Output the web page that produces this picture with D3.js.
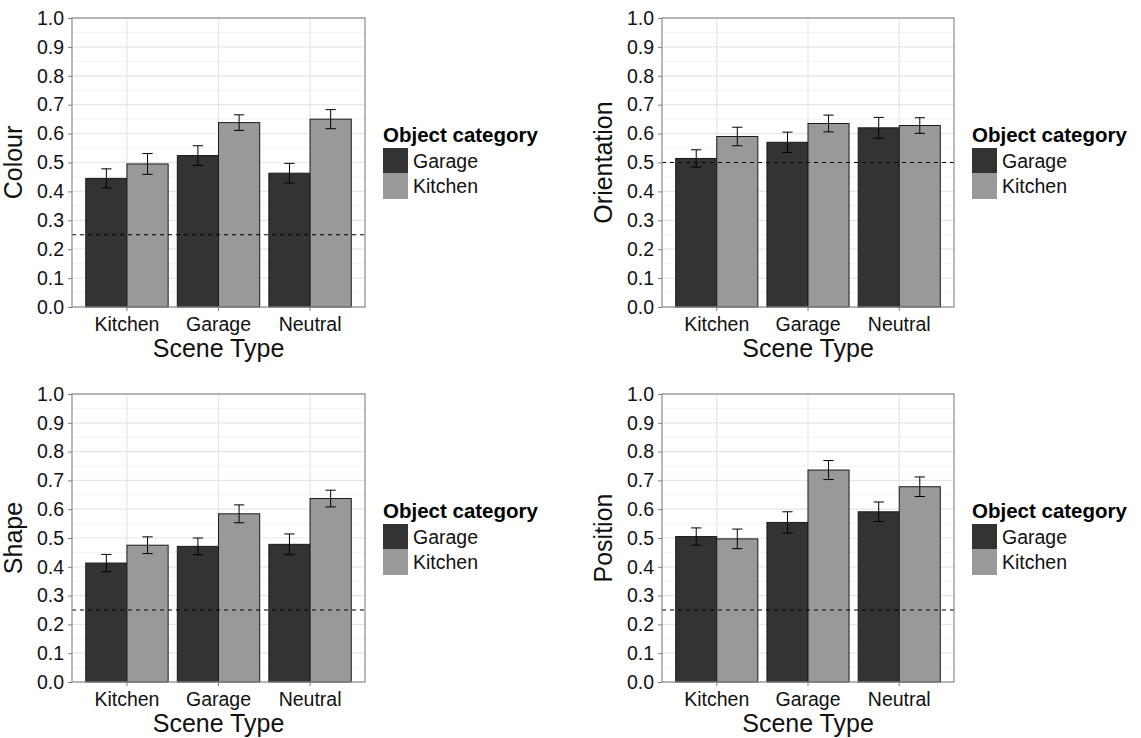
<!DOCTYPE html>
<html>
<head>
<meta charset="utf-8">
<script src="https://cdn.jsdelivr.net/npm/d3@7"></script>
<style>
  html, body { margin: 0; padding: 0; background: #fff; }
  svg { display: block; font-family: "Liberation Sans", Arial, sans-serif; }
</style>
</head>
<body>
<svg id="chart" width="1141" height="738"></svg>
<script>
// Scene types on the x axis and object categories within each scene
const scenes = ["Kitchen", "Garage", "Neutral"];
const objectCategories = ["Garage", "Kitchen"];
const yTicks = [0, 0.1, 0.2, 0.3, 0.4, 0.5, 0.6, 0.7, 0.8, 0.9, 1.0];

// Mean accuracy per scene (Kitchen, Garage, Neutral) and error-bar half widths
const colourGarage = [0.445, 0.524, 0.463];
const colourGarageErr = [0.033, 0.034, 0.034];
const colourKitchen = [0.495, 0.638, 0.650];
const colourKitchenErr = [0.036, 0.027, 0.033];

const orientationGarage = [0.514, 0.570, 0.620];
const orientationGarageErr = [0.030, 0.035, 0.036];
const orientationKitchen = [0.590, 0.635, 0.628];
const orientationKitchenErr = [0.032, 0.029, 0.027];

const shapeGarage = [0.413, 0.471, 0.478];
const shapeGarageErr = [0.030, 0.029, 0.036];
const shapeKitchen = [0.475, 0.584, 0.637];
const shapeKitchenErr = [0.029, 0.031, 0.029];

const positionGarage = [0.505, 0.554, 0.591];
const positionGarageErr = [0.030, 0.037, 0.034];
const positionKitchen = [0.497, 0.736, 0.678];
const positionKitchenErr = [0.034, 0.033, 0.034];

// Chance level for each task
const chanceLevels = { Colour: 0.25, Orientation: 0.5, Shape: 0.25, Position: 0.25 };

const fillColours = { Garage: "#333333", Kitchen: "#999999" };

const panels = [
  { name: "Colour", garage: colourGarage, garageErr: colourGarageErr, kitchen: colourKitchen, kitchenErr: colourKitchenErr,
    left: 72, top: 18, width: 293, height: 289 },
  { name: "Orientation", garage: orientationGarage, garageErr: orientationGarageErr, kitchen: orientationKitchen, kitchenErr: orientationKitchenErr,
    left: 662, top: 18, width: 292, height: 289 },
  { name: "Shape", garage: shapeGarage, garageErr: shapeGarageErr, kitchen: shapeKitchen, kitchenErr: shapeKitchenErr,
    left: 72, top: 394, width: 293, height: 288 },
  { name: "Position", garage: positionGarage, garageErr: positionGarageErr, kitchen: positionKitchen, kitchenErr: positionKitchenErr,
    left: 662, top: 394, width: 292, height: 288 }
];

const FONT = "Liberation Sans, Arial, sans-serif";
const svg = d3.select("#chart");

function drawPanel(p) {
  const g = svg.append("g");
  const x0 = d3.scaleBand().domain(scenes).range([p.left, p.left + p.width])
    .paddingInner(0.1).paddingOuter(0.15);
  const x1 = d3.scaleBand().domain(objectCategories).range([0, x0.bandwidth()]);
  const y = d3.scaleLinear().domain([0, 1]).range([p.top + p.height, p.top]);

  // grid: minor, then major lines
  const minor = d3.range(0.05, 1, 0.1);
  g.selectAll(".minor").data(minor).enter().append("line")
    .attr("x1", p.left).attr("x2", p.left + p.width)
    .attr("y1", d => y(d)).attr("y2", d => y(d))
    .attr("stroke", "#f2f2f2").attr("stroke-width", 1);
  g.selectAll(".major").data(yTicks).enter().append("line")
    .attr("x1", p.left).attr("x2", p.left + p.width)
    .attr("y1", d => y(d)).attr("y2", d => y(d))
    .attr("stroke", "#e6e6e6").attr("stroke-width", 1.2);
  g.selectAll(".vgrid").data(scenes).enter().append("line")
    .attr("x1", d => x0(d) + x0.bandwidth() / 2).attr("x2", d => x0(d) + x0.bandwidth() / 2)
    .attr("y1", p.top).attr("y2", p.top + p.height)
    .attr("stroke", "#e6e6e6").attr("stroke-width", 1.2);

  // bars
  const rows = [];
  scenes.forEach((s, i) => {
    rows.push({ scene: s, obj: "Garage", v: p.garage[i], e: p.garageErr[i] });
    rows.push({ scene: s, obj: "Kitchen", v: p.kitchen[i], e: p.kitchenErr[i] });
  });
  g.selectAll(".bar").data(rows).enter().append("rect")
    .attr("x", d => x0(d.scene) + x1(d.obj))
    .attr("width", x1.bandwidth())
    .attr("y", d => y(d.v))
    .attr("height", d => y(0) - y(d.v))
    .attr("fill", d => fillColours[d.obj])
    .attr("stroke", "#1a1a1a").attr("stroke-width", 1);

  // chance line
  g.append("line")
    .attr("x1", p.left).attr("x2", p.left + p.width)
    .attr("y1", y(chanceLevels[p.name])).attr("y2", y(chanceLevels[p.name]))
    .attr("stroke", "#000").attr("stroke-width", 1).attr("stroke-dasharray", "4,4");

  // error bars
  const cap = x1.bandwidth() * 0.25;
  const eb = g.selectAll(".eb").data(rows).enter().append("g")
    .attr("stroke", "#000").attr("stroke-width", 1);
  const cx = d => x0(d.scene) + x1(d.obj) + x1.bandwidth() / 2;
  eb.append("line")
    .attr("x1", cx).attr("x2", cx)
    .attr("y1", d => y(d.v + d.e)).attr("y2", d => y(d.v - d.e));
  eb.append("line")
    .attr("x1", d => cx(d) - cap / 2).attr("x2", d => cx(d) + cap / 2)
    .attr("y1", d => y(d.v + d.e)).attr("y2", d => y(d.v + d.e));
  eb.append("line")
    .attr("x1", d => cx(d) - cap / 2).attr("x2", d => cx(d) + cap / 2)
    .attr("y1", d => y(d.v - d.e)).attr("y2", d => y(d.v - d.e));

  // panel border
  g.append("rect")
    .attr("x", p.left).attr("y", p.top).attr("width", p.width).attr("height", p.height)
    .attr("fill", "none").attr("stroke", "#8c8c8c").attr("stroke-width", 1.2);

  // axes
  const yAxis = d3.axisLeft(y).tickValues(yTicks).tickFormat(d3.format(".1f")).tickSize(4).tickPadding(4);
  const ya = g.append("g").attr("transform", `translate(${p.left},0)`).call(yAxis);
  ya.select(".domain").remove();
  ya.selectAll("line").attr("stroke", "#7f7f7f");
  ya.selectAll("text").attr("font-size", 19.5).attr("fill", "#111").attr("font-family", FONT);

  const xAxis = d3.axisBottom(x0).tickSize(4).tickPadding(6);
  const xa = g.append("g").attr("transform", `translate(0,${p.top + p.height})`).call(xAxis);
  xa.select(".domain").remove();
  xa.selectAll("line").attr("stroke", "#7f7f7f");
  xa.selectAll("text").attr("font-size", 19.5).attr("fill", "#111").attr("font-family", FONT);

  // axis titles
  g.append("text")
    .attr("x", p.left + p.width / 2).attr("y", p.top + p.height + 50)
    .attr("text-anchor", "middle").attr("font-size", 25).attr("fill", "#111")
    .text("Scene Type");
  g.append("text")
    .attr("transform", `translate(${p.left - 50},${p.top + p.height / 2}) rotate(-90)`)
    .attr("text-anchor", "middle").attr("font-size", 25).attr("fill", "#111")
    .text(p.name);

  // legend
  const lx = p.left + p.width + 18;
  const ly = p.top + 112;
  const lg = g.append("g").attr("transform", `translate(${lx},${ly})`);
  lg.append("text").attr("x", 0).attr("y", 12)
    .attr("font-size", 20.5).attr("font-weight", "bold").attr("fill", "#000")
    .text("Object category");
  objectCategories.forEach((c, i) => {
    lg.append("rect").attr("x", 0).attr("y", 18 + i * 25.5).attr("width", 25).attr("height", 25.5)
      .attr("fill", fillColours[c]);
    lg.append("text").attr("x", 30).attr("y", 18 + i * 25.5 + 19.5)
      .attr("font-size", 19.5).attr("fill", "#111").text(c);
  });
}

panels.forEach(drawPanel);
</script>
</body>
</html>
